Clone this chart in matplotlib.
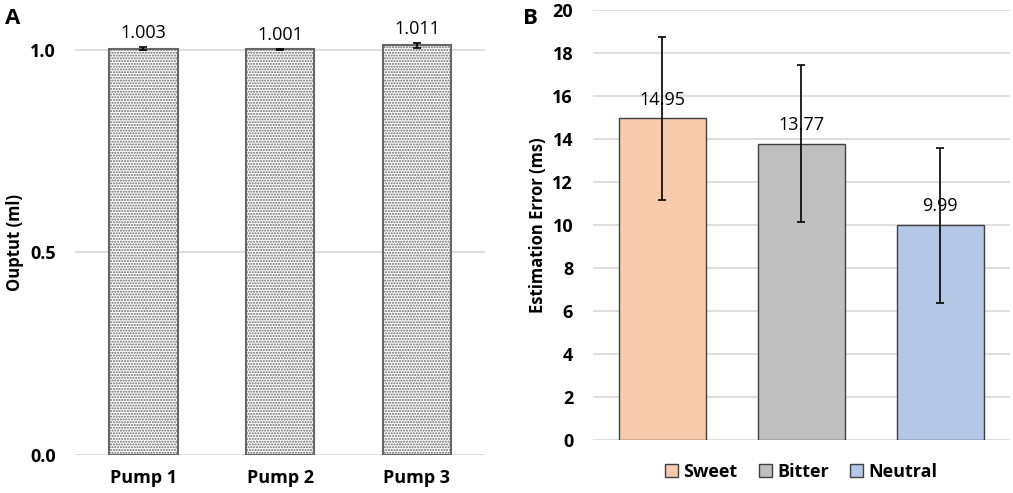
import numpy as np
import matplotlib.pyplot as plt
from matplotlib.patches import Patch

# panel A data
pumps = ['Pump 1', 'Pump 2', 'Pump 3']
pump_output = [1.003, 1.001, 1.011]
pump_err = [0.004, 0.002, 0.006]

# panel B data
tastes = ['Sweet', 'Bitter', 'Neutral']
est_error = [14.95, 13.77, 9.99]
est_sd = [3.77, 3.65, 3.6]
taste_colors = ['#f8cbad', '#bfbfbf', '#b4c7e7']

plt.rcParams['font.family'] = ['Open Sans', 'DejaVu Sans']
plt.rcParams['hatch.color'] = '#b3b3b3'
plt.rcParams['hatch.linewidth'] = 1.0

fig = plt.figure(figsize=(10.13, 4.93), dpi=100)
ax_a = fig.add_axes([0.074, 0.077, 0.405, 0.863])
ax_b = fig.add_axes([0.585, 0.1075, 0.412, 0.8725])

grid_col = '#d9d9d9'


def style_axes(ax):
    for s in ax.spines.values():
        s.set_visible(False)
    ax.tick_params(length=0)
    ax.yaxis.grid(True, color=grid_col, linewidth=1.2)
    ax.set_axisbelow(True)
    for lab in ax.get_yticklabels() + ax.get_xticklabels():
        lab.set_fontweight('bold')


# ---- A ----
x = np.arange(len(pumps))
ax_a.bar(x, pump_output, width=0.5, color='white', edgecolor='#666666',
         linewidth=1.5, hatch='......')
ax_a.errorbar(x, pump_output, yerr=pump_err, fmt='none', ecolor='black',
              elinewidth=1.2, capsize=3, capthick=1.2)
for xi, v, e in zip(x, pump_output, pump_err):
    ax_a.text(xi, v + e + 0.012, f'{v:.3f}', ha='center', va='bottom', fontsize=13)
ax_a.set_xlim(-0.5, 2.5)
ax_a.set_ylim(0, 1.05)
ax_a.set_yticks([0.0, 0.5, 1.0])
ax_a.set_yticklabels(['0.0', '0.5', '1.0'], fontsize=13)
ax_a.set_xticks(x)
ax_a.set_xticklabels(pumps, fontsize=13)
ax_a.tick_params(axis='x', pad=10)
ax_a.tick_params(axis='y', pad=14)
ax_a.set_ylabel('Ouptut (ml)', fontsize=12, fontweight='bold', labelpad=4)
style_axes(ax_a)
fig.text(0.005, 0.963, 'A', fontsize=16, fontweight='bold', va='center')

# ---- B ----
xb = np.arange(len(tastes))
ax_b.bar(xb, est_error, width=0.626, color=taste_colors, edgecolor='#404040',
         linewidth=1.0)
ax_b.errorbar(xb, est_error, yerr=est_sd, fmt='none', ecolor='black',
              elinewidth=1.2, capsize=3, capthick=1.2)
for xi, v in zip(xb, est_error):
    ax_b.text(xi, v + 0.45, f'{v:.2f}', ha='center', va='bottom', fontsize=13)
ax_b.set_xlim(-0.5, 2.5)
ax_b.set_ylim(0, 20)
ax_b.set_yticks(np.arange(0, 21, 2))
ax_b.set_yticklabels([str(t) for t in range(0, 21, 2)], fontsize=13)
ax_b.set_xticks([])
ax_b.tick_params(axis='y', pad=14)
ax_b.set_ylabel('Estimation Error (ms)', fontsize=12, fontweight='bold', labelpad=4)
style_axes(ax_b)
handles = [Patch(facecolor=c, edgecolor='#404040', label=t)
           for c, t in zip(taste_colors, tastes)]
leg = ax_b.legend(handles=handles, loc='upper center', bbox_to_anchor=(0.5, -0.015),
                  ncol=3, frameon=False, handlelength=0.7, handleheight=0.7,
                  handletextpad=0.3, columnspacing=1.2,
                  prop={'weight': 'bold', 'size': 13})
fig.text(0.516, 0.963, 'B', fontsize=16, fontweight='bold', va='center')

fig.savefig('out.png', dpi=100)
